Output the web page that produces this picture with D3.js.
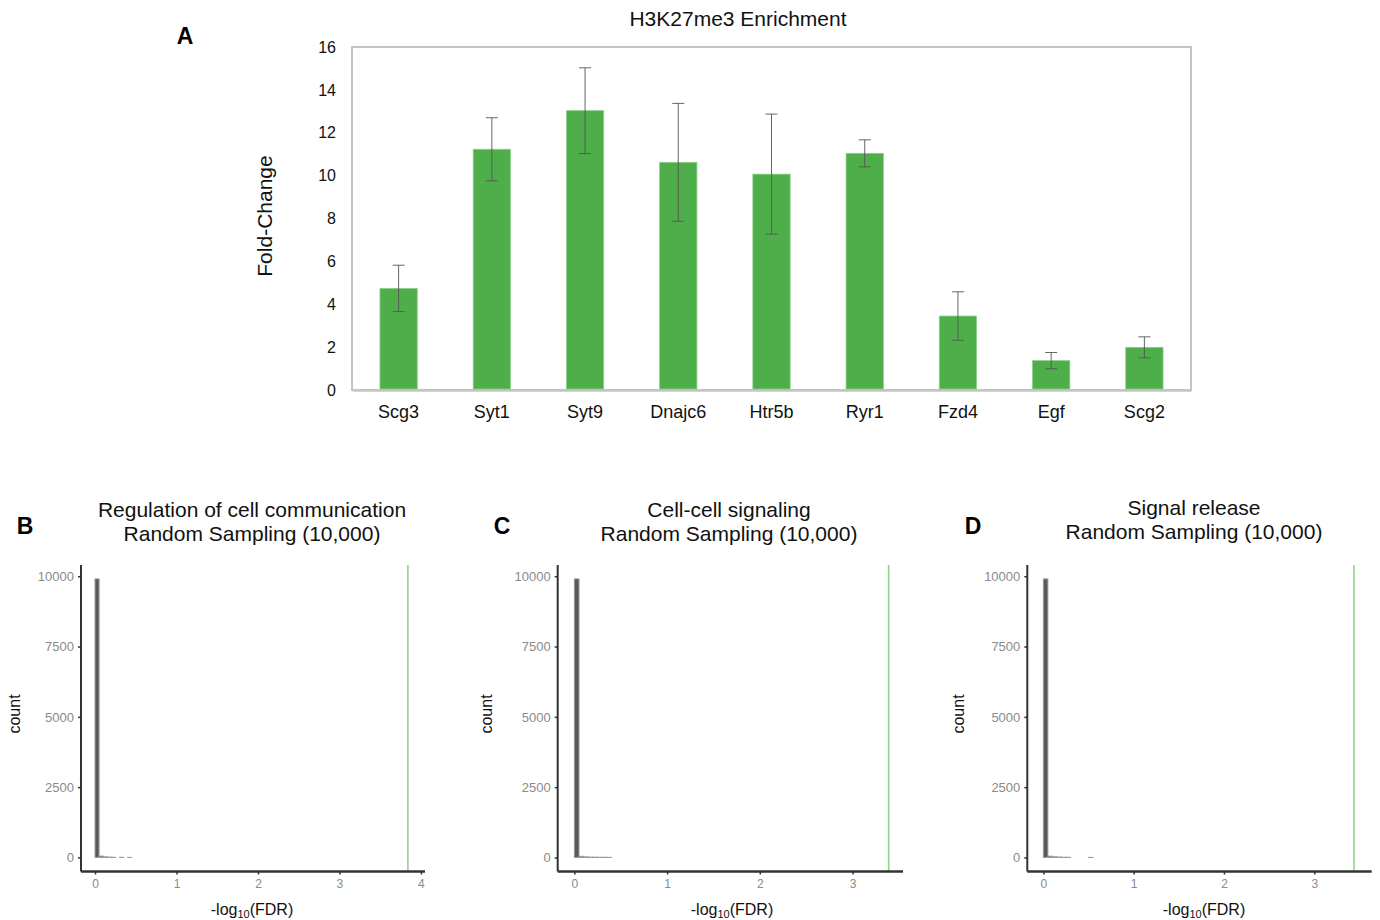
<!DOCTYPE html>
<html>
<head>
<meta charset="utf-8">
<script src="https://cdn.jsdelivr.net/npm/d3@7"></script>
<style>
  html, body { margin: 0; padding: 0; background: #fff; }
  svg { display: block; }
  text { font-family: "Liberation Sans", Arial, sans-serif; }
</style>
</head>
<body>
<svg id="fig" width="1380" height="920"></svg>
<script>
// ---- Panel A: H3K27me3 enrichment (fold-change, mean ± error) ----
const genes = ["Scg3", "Syt1", "Syt9", "Dnajc6", "Htr5b", "Ryr1", "Fzd4", "Egf", "Scg2"];
const foldChange = [4.74, 11.23, 13.03, 10.62, 10.07, 11.04, 3.45, 1.37, 1.99];
const foldError = [1.08, 1.47, 2.0, 2.75, 2.8, 0.63, 1.13, 0.38, 0.49];
const foldTicks = [0, 2, 4, 6, 8, 10, 12, 14, 16];

// ---- Panels B-D: random sampling histograms of -log10(FDR) ----
const panelB_binStart = [0, 0.05, 0.1, 0.15, 0.2, 0.3, 0.4];
const panelB_counts   = [9905, 48, 22, 12, 7, 4, 2];
const panelB_observed = 3.84;

const panelC_binStart = [0, 0.05, 0.1, 0.15, 0.2, 0.25, 0.3, 0.35];
const panelC_counts   = [9905, 40, 20, 12, 9, 6, 5, 3];
const panelC_observed = 3.39;

const panelD_binStart = [0, 0.05, 0.1, 0.15, 0.2, 0.25, 0.5];
const panelD_counts   = [9905, 45, 22, 14, 8, 4, 2];
const panelD_observed = 3.44;

const binWidth = 0.05;
const countTicks = [0, 2500, 5000, 7500, 10000];

const svg = d3.select("#fig");

// ================= Panel A =================
(function drawA() {
  const L = 352, R = 1191, T = 47, B = 390;
  const x = d3.scaleBand().domain(genes).range([L, R]).paddingInner(0.6).paddingOuter(0.3);
  const y = d3.scaleLinear().domain([0, 16]).range([B, T]);
  const g = svg.append("g");

  g.append("text").attr("x", 185).attr("y", 44).attr("text-anchor", "middle")
    .attr("font-weight", "bold").attr("font-size", 23).text("A");

  g.append("text").attr("x", 738).attr("y", 26).attr("text-anchor", "middle")
    .attr("font-size", 21).attr("fill", "#111").text("H3K27me3 Enrichment");

  // plot frame
  g.append("rect").attr("x", L).attr("y", T).attr("width", R - L).attr("height", B - T)
    .attr("fill", "none").attr("stroke", "#c4c4c4").attr("stroke-width", 2);

  const yAxis = d3.axisLeft(y).tickValues(foldTicks).tickSize(0).tickPadding(16);
  const ya = g.append("g").attr("transform", `translate(${L},0)`).call(yAxis);
  ya.select(".domain").remove();
  ya.selectAll("text").attr("font-family", "'Open Sans', sans-serif").attr("font-size", 16).attr("fill", "#111");

  const xAxis = d3.axisBottom(x).tickSize(0).tickPadding(15);
  const xa = g.append("g").attr("transform", `translate(0,${B})`).call(xAxis);
  xa.select(".domain").attr("stroke", "#c4c4c4").attr("stroke-width", 2.5);
  xa.selectAll("text").attr("font-size", 18).attr("fill", "#111");

  g.append("text").attr("transform", `translate(272,216) rotate(-90)`).attr("text-anchor", "middle")
    .attr("font-size", 21).attr("fill", "#111").text("Fold-Change");

  const rows = genes.map((d, i) => ({ gene: d, v: foldChange[i], e: foldError[i] }));

  g.selectAll("rect.bar").data(rows).enter().append("rect").attr("class", "bar")
    .attr("x", d => x(d.gene)).attr("width", x.bandwidth())
    .attr("y", d => y(d.v)).attr("height", d => y(0) - y(d.v) - 1)
    .attr("fill", "#4eae4a").attr("stroke", "#8ccf88").attr("stroke-width", 0.8);

  const cap = 6;
  const eb = g.selectAll("g.err").data(rows).enter().append("g").attr("class", "err")
    .attr("stroke", "#555").attr("stroke-width", 0.9);
  eb.append("line").attr("x1", d => x(d.gene) + x.bandwidth() / 2).attr("x2", d => x(d.gene) + x.bandwidth() / 2)
    .attr("y1", d => y(d.v + d.e)).attr("y2", d => y(d.v - d.e));
  eb.append("line").attr("x1", d => x(d.gene) + x.bandwidth() / 2 - cap).attr("x2", d => x(d.gene) + x.bandwidth() / 2 + cap)
    .attr("y1", d => y(d.v + d.e)).attr("y2", d => y(d.v + d.e));
  eb.append("line").attr("x1", d => x(d.gene) + x.bandwidth() / 2 - cap).attr("x2", d => x(d.gene) + x.bandwidth() / 2 + cap)
    .attr("y1", d => y(d.v - d.e)).attr("y2", d => y(d.v - d.e));
})();

// ================= Panels B-D =================
function drawHist(cfg) {
  const { letter, letterX, titleLines, titleX, titleY, L, R, xDomain, xTicks,
          binStart, counts, observed, countX, xlabX } = cfg;
  const T = 565, B = 871.5;
  const x = d3.scaleLinear().domain(xDomain).range([L, R]);
  const y = d3.scaleLinear().domain([-500, 10400]).range([B, T]);
  const g = svg.append("g");

  g.append("text").attr("x", letterX).attr("y", 534).attr("text-anchor", "middle")
    .attr("font-weight", "bold").attr("font-size", 23).text(letter);

  titleLines.forEach((t, i) => {
    g.append("text").attr("x", titleX).attr("y", titleY + i * 24).attr("text-anchor", "middle")
      .attr("font-size", 21).attr("fill", "#111").text(t);
  });

  // histogram bars
  const bins = binStart.map((s, i) => ({ x0: s, x1: s + binWidth, n: counts[i] }));
  g.selectAll("rect.bin").data(bins).enter().append("rect").attr("class", "bin")
    .attr("x", d => x(d.x0)).attr("width", d => x(d.x1) - x(d.x0))
    .attr("y", d => y(d.n)).attr("height", d => y(0) - y(d.n))
    .attr("fill", "#595959").attr("stroke", "#9a9a9a").attr("stroke-width", 1);

  // observed value
  g.append("line").attr("x1", x(observed)).attr("x2", x(observed)).attr("y1", T).attr("y2", B)
    .attr("stroke", "#93d38d").attr("stroke-width", 1.6);

  const yAxis = d3.axisLeft(y).tickValues(countTicks).tickSize(3).tickPadding(4).tickFormat(d3.format("d"));
  const ya = g.append("g").attr("transform", `translate(${L},0)`).call(yAxis);
  ya.select(".domain").attr("stroke", "#333").attr("stroke-width", 2).attr("d", `M0,${T}V${B}`);
  ya.selectAll(".tick line").attr("stroke", "#333").attr("stroke-width", 1.5);
  ya.selectAll("text").attr("font-size", 13).attr("fill", "#8a8a8a");

  const xAxis = d3.axisBottom(x).tickValues(xTicks).tickSize(3).tickPadding(5).tickFormat(d3.format("d"));
  const xa = g.append("g").attr("transform", `translate(0,${B})`).call(xAxis);
  xa.select(".domain").attr("stroke", "#333").attr("stroke-width", 2.5).attr("d", `M${L},0H${R}`);
  xa.selectAll(".tick line").attr("stroke", "#333").attr("stroke-width", 1.5);
  xa.selectAll("text").attr("font-size", 12).attr("fill", "#8a8a8a");

  g.append("text").attr("transform", `translate(${countX},714) rotate(-90)`).attr("text-anchor", "middle")
    .attr("font-size", 16).attr("fill", "#111").text("count");

  const xl = g.append("text").attr("x", xlabX).attr("y", 915).attr("text-anchor", "middle")
    .attr("font-size", 16).attr("fill", "#111");
  xl.append("tspan").text("-log");
  xl.append("tspan").attr("font-size", 11).attr("dy", 3).text("10");
  xl.append("tspan").attr("dy", -3).text("(FDR)");
}

drawHist({
  letter: "B", letterX: 25, titleLines: ["Regulation of cell communication", "Random Sampling (10,000)"],
  titleX: 252, titleY: 517, L: 81, R: 425, xDomain: [-0.172, 4.05], xTicks: [0, 1, 2, 3, 4],
  binStart: panelB_binStart, counts: panelB_counts, observed: panelB_observed, countX: 20, xlabX: 252
});
drawHist({
  letter: "C", letterX: 502, titleLines: ["Cell-cell signaling", "Random Sampling (10,000)"],
  titleX: 729, titleY: 517, L: 557.7, R: 903, xDomain: [-0.18, 3.545], xTicks: [0, 1, 2, 3],
  binStart: panelC_binStart, counts: panelC_counts, observed: panelC_observed, countX: 492, xlabX: 732
});
drawHist({
  letter: "D", letterX: 973, titleLines: ["Signal release", "Random Sampling (10,000)"],
  titleX: 1194, titleY: 515, L: 1027.3, R: 1371.7, xDomain: [-0.178, 3.636], xTicks: [0, 1, 2, 3],
  binStart: panelD_binStart, counts: panelD_counts, observed: panelD_observed, countX: 964, xlabX: 1204
});
</script>
</body>
</html>
